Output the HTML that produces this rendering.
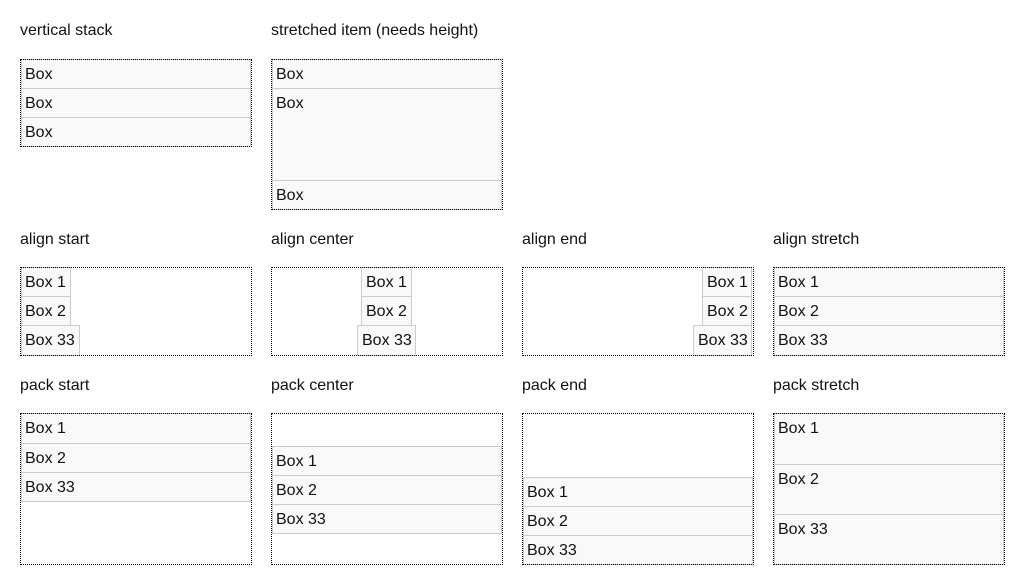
<!DOCTYPE html>
<html><head><style>
body{margin:0;width:1024px;height:584px;background:#fff;font-family:"Liberation Sans",sans-serif;position:relative;overflow:hidden}
.l{position:absolute;font-size:16px;color:#111;line-height:18px}
.c{position:absolute;box-sizing:border-box;border:1px dotted #000;width:232px;z-index:2}
.b{position:absolute;box-sizing:border-box;border:1px solid #ccc;background:#f9f9f9;font-size:16px;color:#111;padding:1px 3px 0 3px;line-height:27px;white-space:nowrap}
</style></head><body>
<div class="l" style="left:20px;top:22px">vertical stack</div>
<div class="l" style="left:271px;top:22px">stretched item (needs height)</div>
<div class="l" style="left:20px;top:231px">align start</div>
<div class="l" style="left:271px;top:231px">align center</div>
<div class="l" style="left:522px;top:231px">align end</div>
<div class="l" style="left:773px;top:231px">align stretch</div>
<div class="l" style="left:20px;top:377px">pack start</div>
<div class="l" style="left:271px;top:377px">pack center</div>
<div class="l" style="left:522px;top:377px">pack end</div>
<div class="l" style="left:773px;top:377px">pack stretch</div>

<div class="c" style="left:20px;top:59px;height:88px"></div>
<div class="b" style="left:21px;top:59px;width:230px;height:30px">Box</div>
<div class="b" style="left:21px;top:88px;width:230px;height:30px">Box</div>
<div class="b" style="left:21px;top:117px;width:230px;height:30px">Box</div>

<div class="c" style="left:271px;top:59px;height:151px"></div>
<div class="b" style="left:272px;top:59px;width:230px;height:30px">Box</div>
<div class="b" style="left:272px;top:88px;width:230px;height:93px">Box</div>
<div class="b" style="left:272px;top:180px;width:230px;height:30px">Box</div>

<div class="c" style="left:20px;top:267px;height:89px"></div>
<div class="b" style="left:21px;top:267px;width:50px;height:30px">Box 1</div>
<div class="b" style="left:21px;top:296px;width:50px;height:30px">Box 2</div>
<div class="b" style="left:21px;top:325px;width:59px;height:31px">Box 33</div>

<div class="c" style="left:271px;top:267px;height:89px"></div>
<div class="b" style="left:361px;top:267px;width:51px;height:30px;padding-left:4px">Box 1</div>
<div class="b" style="left:361px;top:296px;width:51px;height:30px;padding-left:4px">Box 2</div>
<div class="b" style="left:357px;top:325px;width:59px;height:31px;padding-left:4px">Box 33</div>

<div class="c" style="left:522px;top:267px;height:89px"></div>
<div class="b" style="left:702px;top:267px;width:50px;height:30px;padding-left:4px">Box 1</div>
<div class="b" style="left:702px;top:296px;width:50px;height:30px;padding-left:4px">Box 2</div>
<div class="b" style="left:693px;top:325px;width:59px;height:31px;padding-left:4px">Box 33</div>

<div class="c" style="left:773px;top:267px;height:89px"></div>
<div class="b" style="left:774px;top:267px;width:230px;height:30px">Box 1</div>
<div class="b" style="left:774px;top:296px;width:230px;height:30px">Box 2</div>
<div class="b" style="left:774px;top:325px;width:230px;height:31px">Box 33</div>

<div class="c" style="left:20px;top:413px;height:152px"></div>
<div class="b" style="left:21px;top:413px;width:230px;height:31px">Box 1</div>
<div class="b" style="left:21px;top:443px;width:230px;height:30px">Box 2</div>
<div class="b" style="left:21px;top:472px;width:230px;height:30px">Box 33</div>

<div class="c" style="left:271px;top:413px;height:152px"></div>
<div class="b" style="left:272px;top:446px;width:230px;height:30px">Box 1</div>
<div class="b" style="left:272px;top:475px;width:230px;height:30px">Box 2</div>
<div class="b" style="left:272px;top:504px;width:230px;height:30px">Box 33</div>

<div class="c" style="left:522px;top:413px;height:152px"></div>
<div class="b" style="left:523px;top:477px;width:230px;height:30px">Box 1</div>
<div class="b" style="left:523px;top:506px;width:230px;height:30px">Box 2</div>
<div class="b" style="left:523px;top:535px;width:230px;height:30px">Box 33</div>

<div class="c" style="left:773px;top:413px;height:152px"></div>
<div class="b" style="left:774px;top:413px;width:230px;height:52px">Box 1</div>
<div class="b" style="left:774px;top:464px;width:230px;height:51px">Box 2</div>
<div class="b" style="left:774px;top:514px;width:230px;height:51px">Box 33</div>
</body></html>
